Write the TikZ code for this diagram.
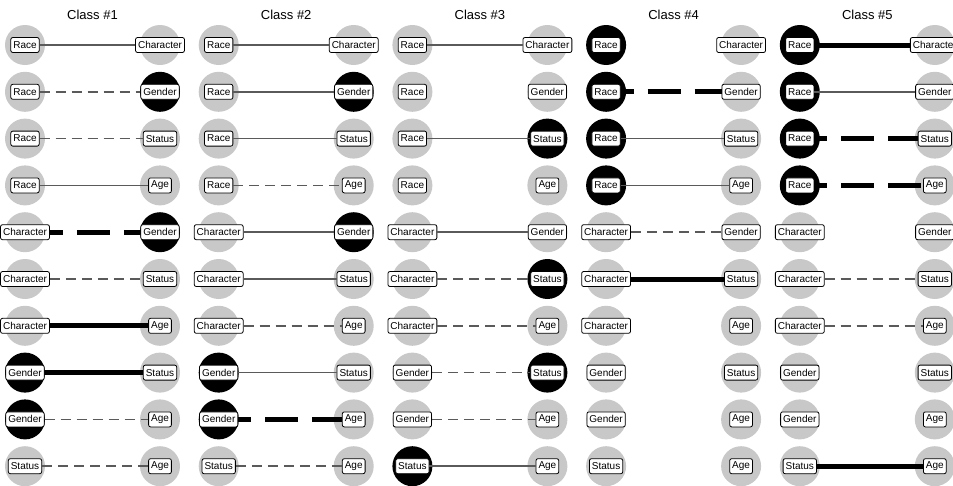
\documentclass[tikz,border=0pt]{standalone}
\usepackage{fontspec}
\setmainfont{Liberation Sans}
\definecolor{circgray}{HTML}{C8C8C8}
\definecolor{linegray}{HTML}{5A5A5A}
\def\leftname#1{\ifcase#1\or Race\or Race\or Race\or Race\or Character\or Character\or Character\or Gender\or Gender\or Status\fi}
\def\rightname#1{\ifcase#1\or Character\or Gender\or Status\or Age\or Gender\or Status\or Age\or Status\or Age\or Age\fi}
\tikzset{
  ts/.style={draw=linegray,line width=1.5pt},
  td/.style={draw=linegray,line width=1.5pt,dash pattern=on 10pt off 6pt},
  Ts/.style={draw=black,line width=5pt},
  Td/.style={draw=black,line width=5pt,dash pattern=on 33pt off 14pt,dash phase=20pt},
  no/.style={draw=none},
  circ/.style={circle,minimum size=40pt,inner sep=0pt,draw=none},
  lab/.style={draw=black,fill=white,rounded corners=2pt,line width=0.8pt,font=\fontsize{10}{11}\selectfont,inner xsep=2.5pt,inner ysep=0pt,minimum height=15pt},
  ttl/.style={font=\fontsize{13}{15}\selectfont}
}
\begin{document}
\begin{tikzpicture}[x=1pt,y=-1pt]
\useasboundingbox (0,0) rectangle (953,485);
\clip (0,0) rectangle (953,485);
\fill[white] (0,0) rectangle (953,485);
\foreach \c/\hl/\sty in {1/Gender/{ts,td,td,ts,Td,td,Ts,Ts,td,td}, 2/Gender/{ts,ts,ts,td,ts,ts,td,ts,Td,td}, 3/Status/{ts,no,ts,no,ts,td,td,td,td,ts}, 4/Race/{no,Td,ts,ts,td,Ts,no,no,no,no}, 5/Race/{Ts,ts,Td,Td,no,td,td,no,no,Ts}}{
  \pgfmathsetmacro\xl{25+193.7*(\c-1)}
  \pgfmathsetmacro\xr{\xl+135}
  \pgfmathsetmacro\xm{\xl+67.5}
  \node[ttl] (T\c) at (\xm,15) {Class \#\c};
  \foreach \s [count=\r] in \sty {
    \pgfmathsetmacro\yy{45+46.8*(\r-1)}
    \edef\na{\leftname{\r}}\edef\nb{\rightname{\r}}\edef\h{\hl}
    \ifx\na\h\def\fa{black}\else\def\fa{circgray}\fi
    \ifx\nb\h\def\fb{black}\else\def\fb{circgray}\fi
    \node[circ,fill=\fa] (CL\c-\r) at (\xl,\yy) {};
    \node[circ,fill=\fb] (CR\c-\r) at (\xr,\yy) {};
    \node[lab] (L\c-\r) at (CL\c-\r) {\na};
    \node[lab] (R\c-\r) at (CR\c-\r) {\nb};
    \draw[\s] (L\c-\r) -- (R\c-\r);
  }
}
\end{tikzpicture}
\end{document}
